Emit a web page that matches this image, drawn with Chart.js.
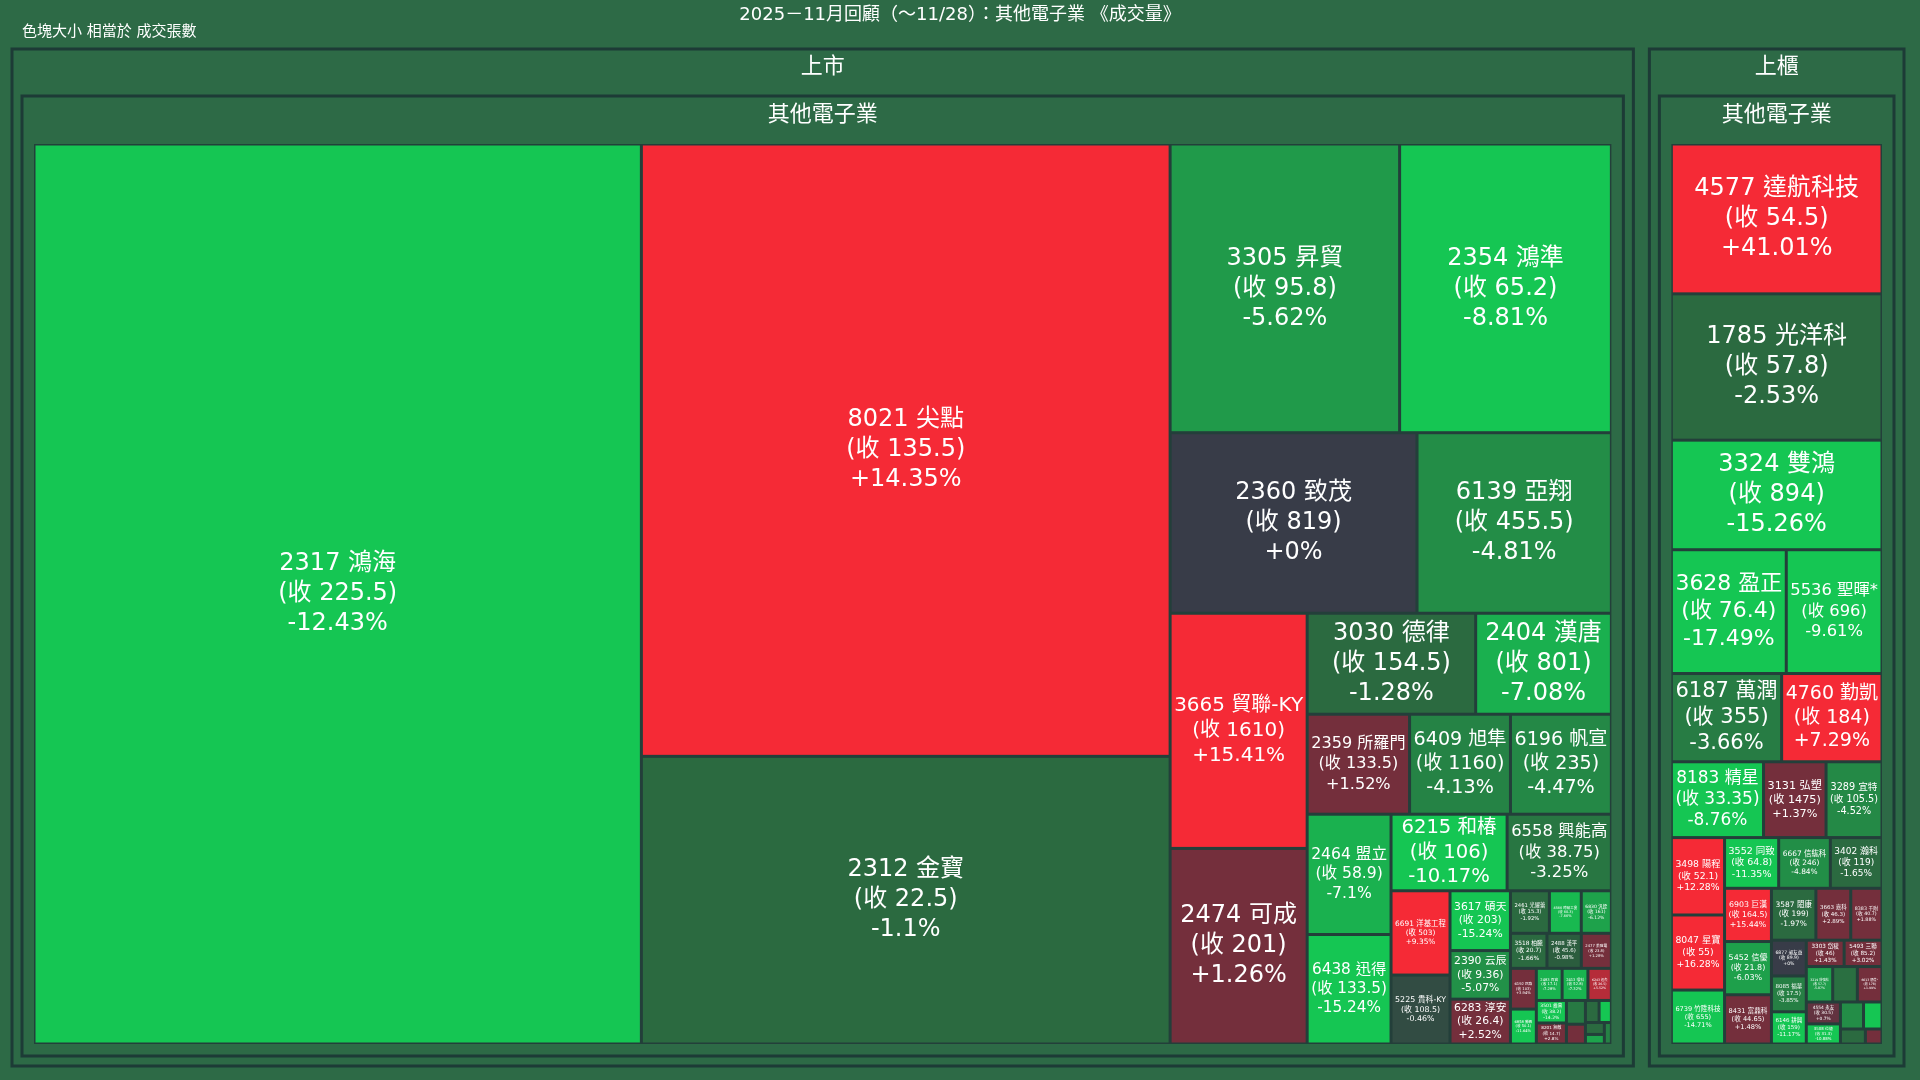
<!DOCTYPE html>
<html><head><meta charset="utf-8">
<script src="https://cdn.jsdelivr.net/npm/chart.js@4"></script>
<style>html,body{margin:0;padding:0;background:#2d6a46;overflow:hidden}#wrap{width:1920px;height:1080px}</style>
</head><body><div id="wrap"><canvas id="c"></canvas></div>
<script>
const chartTitle = "2025－11月回顧（～11/28）：其他電子業 《成交量》";
const sizeNote = "色塊大小 相當於 成交張數";
const marketNames = ["上市", "上櫃"];
const industryName = "其他電子業";

const twseCodes = ["2317","8021","2312","3305","2354","2360","6139","3665","2474","3030","2404","2359","6409","6196","2464","6438","6215","6558","6691","5225","3617","2390","6283","2461","6830","4566","3518","2488","2477","6192","6858","2483","2413","6243","3501","8201","2308","6285","3023","6416","2327","5244","6117"];
const twseNames = ["鴻海","尖點","金寶","昇貿","鴻準","致茂","亞翔","貿聯-KY","可成","德律","漢唐","所羅門","旭隼","帆宣","盟立","迅得","和椿","興能高","洋基工程","貴科-KY","碩天","云辰","淳安","光耀蕾","汎銓","時碩工業","柏騰","漢平","美隆電","巨路","勝霖","百容","環科","迅杰","維熹","無敵","台達電","元晶","信邦","瑞祺電通","國巨","美琪瑪","至寶電"];
const twseClose = [225.5,135.5,22.5,95.8,65.2,819,455.5,1610,201,154.5,801,133.5,1160,235,58.9,133.5,106,38.75,503,108.5,203,9.36,26.4,15.3,161,60.3,20.7,45.6,23.8,103,50.1,17.1,52.8,26.5,38.2,14.7,960,28.5,120,88,280,46,32];
const twsePct = [-12.43,14.35,-1.1,-5.62,-8.81,0,-4.81,15.41,1.26,-1.28,-7.08,1.52,-4.13,-4.47,-7.1,-15.24,-10.17,-3.25,9.35,-0.46,-15.24,-5.07,2.52,-1.92,-6.12,-7.66,-1.66,-0.98,1.28,3.94,-11.64,-7.28,-7.32,5.52,-14.2,2.8,-3.5,2.1,-1.2,-10.5,-2.2,-6.3,-4.0];
const twseVolume = [363,215,101,44,40.6,29.6,23.3,21.4,17.8,11.3,9.1,6.8,6.7,6.7,6.7,6.1,5.9,5.3,3.3,2.7,2.4,1.95,1.8,1.1,0.85,0.9,0.85,0.8,0.7,0.7,0.6,0.55,0.55,0.5,0.45,0.42,0.3,0.25,0.2,0.18,0.15,0.12,0.1];

const tpexCodes = ["4577","1785","3324","3628","5536","6187","4760","8183","3131","3498","3289","8047","3552","6739","6667","3402","6903","5452","8431","3587","3663","8383","6877","8085","6146","3303","5493","3219","3680","6613","4554","3508","3323","3624","4542","6432"];
const tpexNames = ["達航科技","光洋科","雙鴻","盈正","聖暉*","萬潤","勤凱","精星","弘塑","陽程","宜特","星寶","同致","竹陞科技","信紘科","瀚科","巨漢","信優","富鼎科","閎康","嘉科","千附","昶友益","福華","耕興","岱稜","三聯","倍強科","友威科","朋億*","永友","位速","加百裕","光頡","科嶠","今展科"];
const tpexClose = [54.5,57.8,894,76.4,696,355,184,33.35,1475,52.1,105.5,55,64.8,655,246,119,164.5,21.8,44.65,199,46.3,40.7,89.9,17.5,159,46,85.2,57.7,58,178,30.5,31.3,17.4,26.4,42.3,28.6];
const tpexPct = [41.01,-2.53,-15.26,-17.49,-9.61,-3.66,7.29,-8.76,1.37,12.28,-4.52,16.28,-11.35,-14.71,-4.84,-1.65,15.44,-6.03,1.48,-1.97,2.89,1.88,0,-3.85,-11.17,1.43,3.02,-5.87,-2.85,1.99,0.7,-10.88,-4.79,-8.5,-2.1,1.6];
const tpexVolume = [25.3,24.7,18.5,11.4,9.5,7.8,7.1,5.6,3.8,3.3,3.4,3.2,2.2,2.3,2.1,2.1,2.0,2.0,1.85,1.85,1.45,1.3,1.0,1.0,0.9,0.8,0.8,0.75,0.7,0.7,0.6,0.55,0.5,0.4,0.3,0.2];

function build(codes,names,close,pct,vol){
  return codes.map((c,i)=>({label:c+" "+names[i],close:close[i],pct:pct[i],v:vol[i]})).sort((a,b)=>b.v-a.v);
}
const markets=[
  {name:marketNames[0],items:build(twseCodes,twseNames,twseClose,twsePct,twseVolume)},
  {name:marketNames[1],items:build(tpexCodes,tpexNames,tpexClose,tpexPct,tpexVolume)}
];
markets.forEach(m=>m.v=m.items.reduce((s,d)=>s+d.v,0));

function squarify(items,r){
  const out=[];let x=r.x,y=r.y,w=r.w,h=r.h;
  let rest=items.slice();const total=rest.reduce((s,d)=>s+d.v,0);
  const scale=(w*h)/total;
  function worst(row,side){const s=row.reduce((a,d)=>a+d.v*scale,0);let mx=0;
    row.forEach(d=>{const a=d.v*scale;mx=Math.max(mx,Math.max(side*side*a/(s*s),(s*s)/(side*side*a)));});return mx;}
  while(rest.length){
    const side=Math.min(w,h);let row=[rest[0]];let i=1;
    while(i<rest.length){const nr=row.concat([rest[i]]);if(worst(nr,side)<=worst(row,side)){row=nr;i++;}else break;}
    rest=rest.slice(i);
    const s=row.reduce((a,d)=>a+d.v*scale,0);
    if(w>=h){const cw=s/h;let cy=y;row.forEach(d=>{const ch=d.v*scale/cw;out.push({d,x:x,y:cy,w:cw,h:ch});cy+=ch;});x+=cw;w-=cw;}
    else{const ch=s/w;let cx=x;row.forEach(d=>{const cw=d.v*scale/ch;out.push({d,x:cx,y:y,w:cw,h:ch});cx+=cw;});y+=ch;h-=ch;}
  }
  return out;
}
function lerp(a,b,t){const pa=[1,3,5].map(i=>parseInt(a.substr(i,2),16)),pb=[1,3,5].map(i=>parseInt(b.substr(i,2),16));
  return "rgb("+pa.map((v,i)=>Math.round(v+(pb[i]-v)*t)).join(",")+")";}
function color(p){
  const cl=v=>Math.max(0,Math.min(1,v));
  if(p>0){ if(p<1) return lerp("#383c48","#742f3c",cl(p)); return lerp("#742f3c","#f52a36",cl((p-4)/3));}
  if(p<0){const a=-p; if(a<1) return lerp("#383c48","#2b5e3e",cl(a)); return lerp("#2b6a40","#15c653",cl((a-2.5)/6));}
  return "#383c48";
}
const font="'DejaVu Sans','Noto Sans CJK TC',sans-serif";

const treemapPlugin={id:"tm",afterDraw(chart){
  const ctx=chart.ctx,xs=chart.scales.x,ys=chart.scales.y;
  const P=(x,y)=>[xs.getPixelForValue(x),ys.getPixelForValue(y)];
  const rect=(x,y,w,h,fill,stroke,lw)=>{const [a,b]=P(x,y),[c,d]=P(x+w,y+h);
    if(fill){ctx.fillStyle=fill;ctx.fillRect(a,b,c-a,d-b);} if(stroke){ctx.strokeStyle=stroke;ctx.lineWidth=lw;ctx.strokeRect(a,b,c-a,d-b);}};
  const text=(t,x,y,sz,align)=>{const [a,b]=P(x,y);ctx.fillStyle="#fff";ctx.font=sz+"px "+font;ctx.textAlign=align||"center";ctx.textBaseline="middle";ctx.fillText(t,a,b);};
  ctx.save();
  rect(0,0,1920,1080,"#2d6a46");
  text(chartTitle,960,15,18);
  text(sizeNote,22,32,15,"left");
  const root={x:12,y:49,w:1892,h:1017};
  const outer=squarify(markets.map(m=>({v:m.v,m})),root);
  outer.forEach(o=>{
    const m=o.d.m;const bx=o.x+(o.x>root.x?8:0),bw=o.w-8;
    rect(bx,o.y,bw,o.h,"#2d6a46","#1d3b36",3);
    text(m.name,bx+bw/2,o.y+18,22);
    const ix=bx+10,iy=o.y+47,iw=bw-20,ih=o.h-57;
    rect(ix,iy,iw,ih,"#2d6a46","#1d3b36",3);
    text(industryName,ix+iw/2,iy+19,22);
    const cr={x:ix+12,y:iy+48,w:iw-24,h:ih-60};
    rect(cr.x,cr.y,cr.w,cr.h,"#233f3a");
    squarify(m.items,cr).forEach(c=>{
      const g=1.5;rect(c.x+g,c.y+g,c.w-2*g,c.h-2*g,color(c.d.pct));
      const lines=[c.d.label,"(收 "+c.d.close+")",(c.d.pct>=0?"+":"")+c.d.pct+"%"];
      ctx.font="10px "+font;
      const mw=Math.max(...lines.map(l=>ctx.measureText(l).width))/10;
      let sz=Math.min(24,(c.w-8)/mw,(c.h-6)/3.6);
      if(sz<3) return;
      const lh=sz*1.25,cx=c.x+c.w/2,cy=c.y+c.h/2;
      lines.forEach((l,k)=>text(l,cx,cy+(k-1)*lh,sz));
    });
  });
  ctx.restore();
}};

new Chart(document.getElementById("c"),{
  type:"scatter",
  data:{datasets:[{data:[]}]},
  options:{responsive:true,maintainAspectRatio:false,animation:false,
    layout:{padding:0},
    plugins:{legend:{display:false},tooltip:{enabled:false}},
    scales:{x:{type:"linear",min:0,max:1920,display:false},y:{type:"linear",min:0,max:1080,reverse:true,display:false}}},
  plugins:[treemapPlugin]
});
</script></body></html>
